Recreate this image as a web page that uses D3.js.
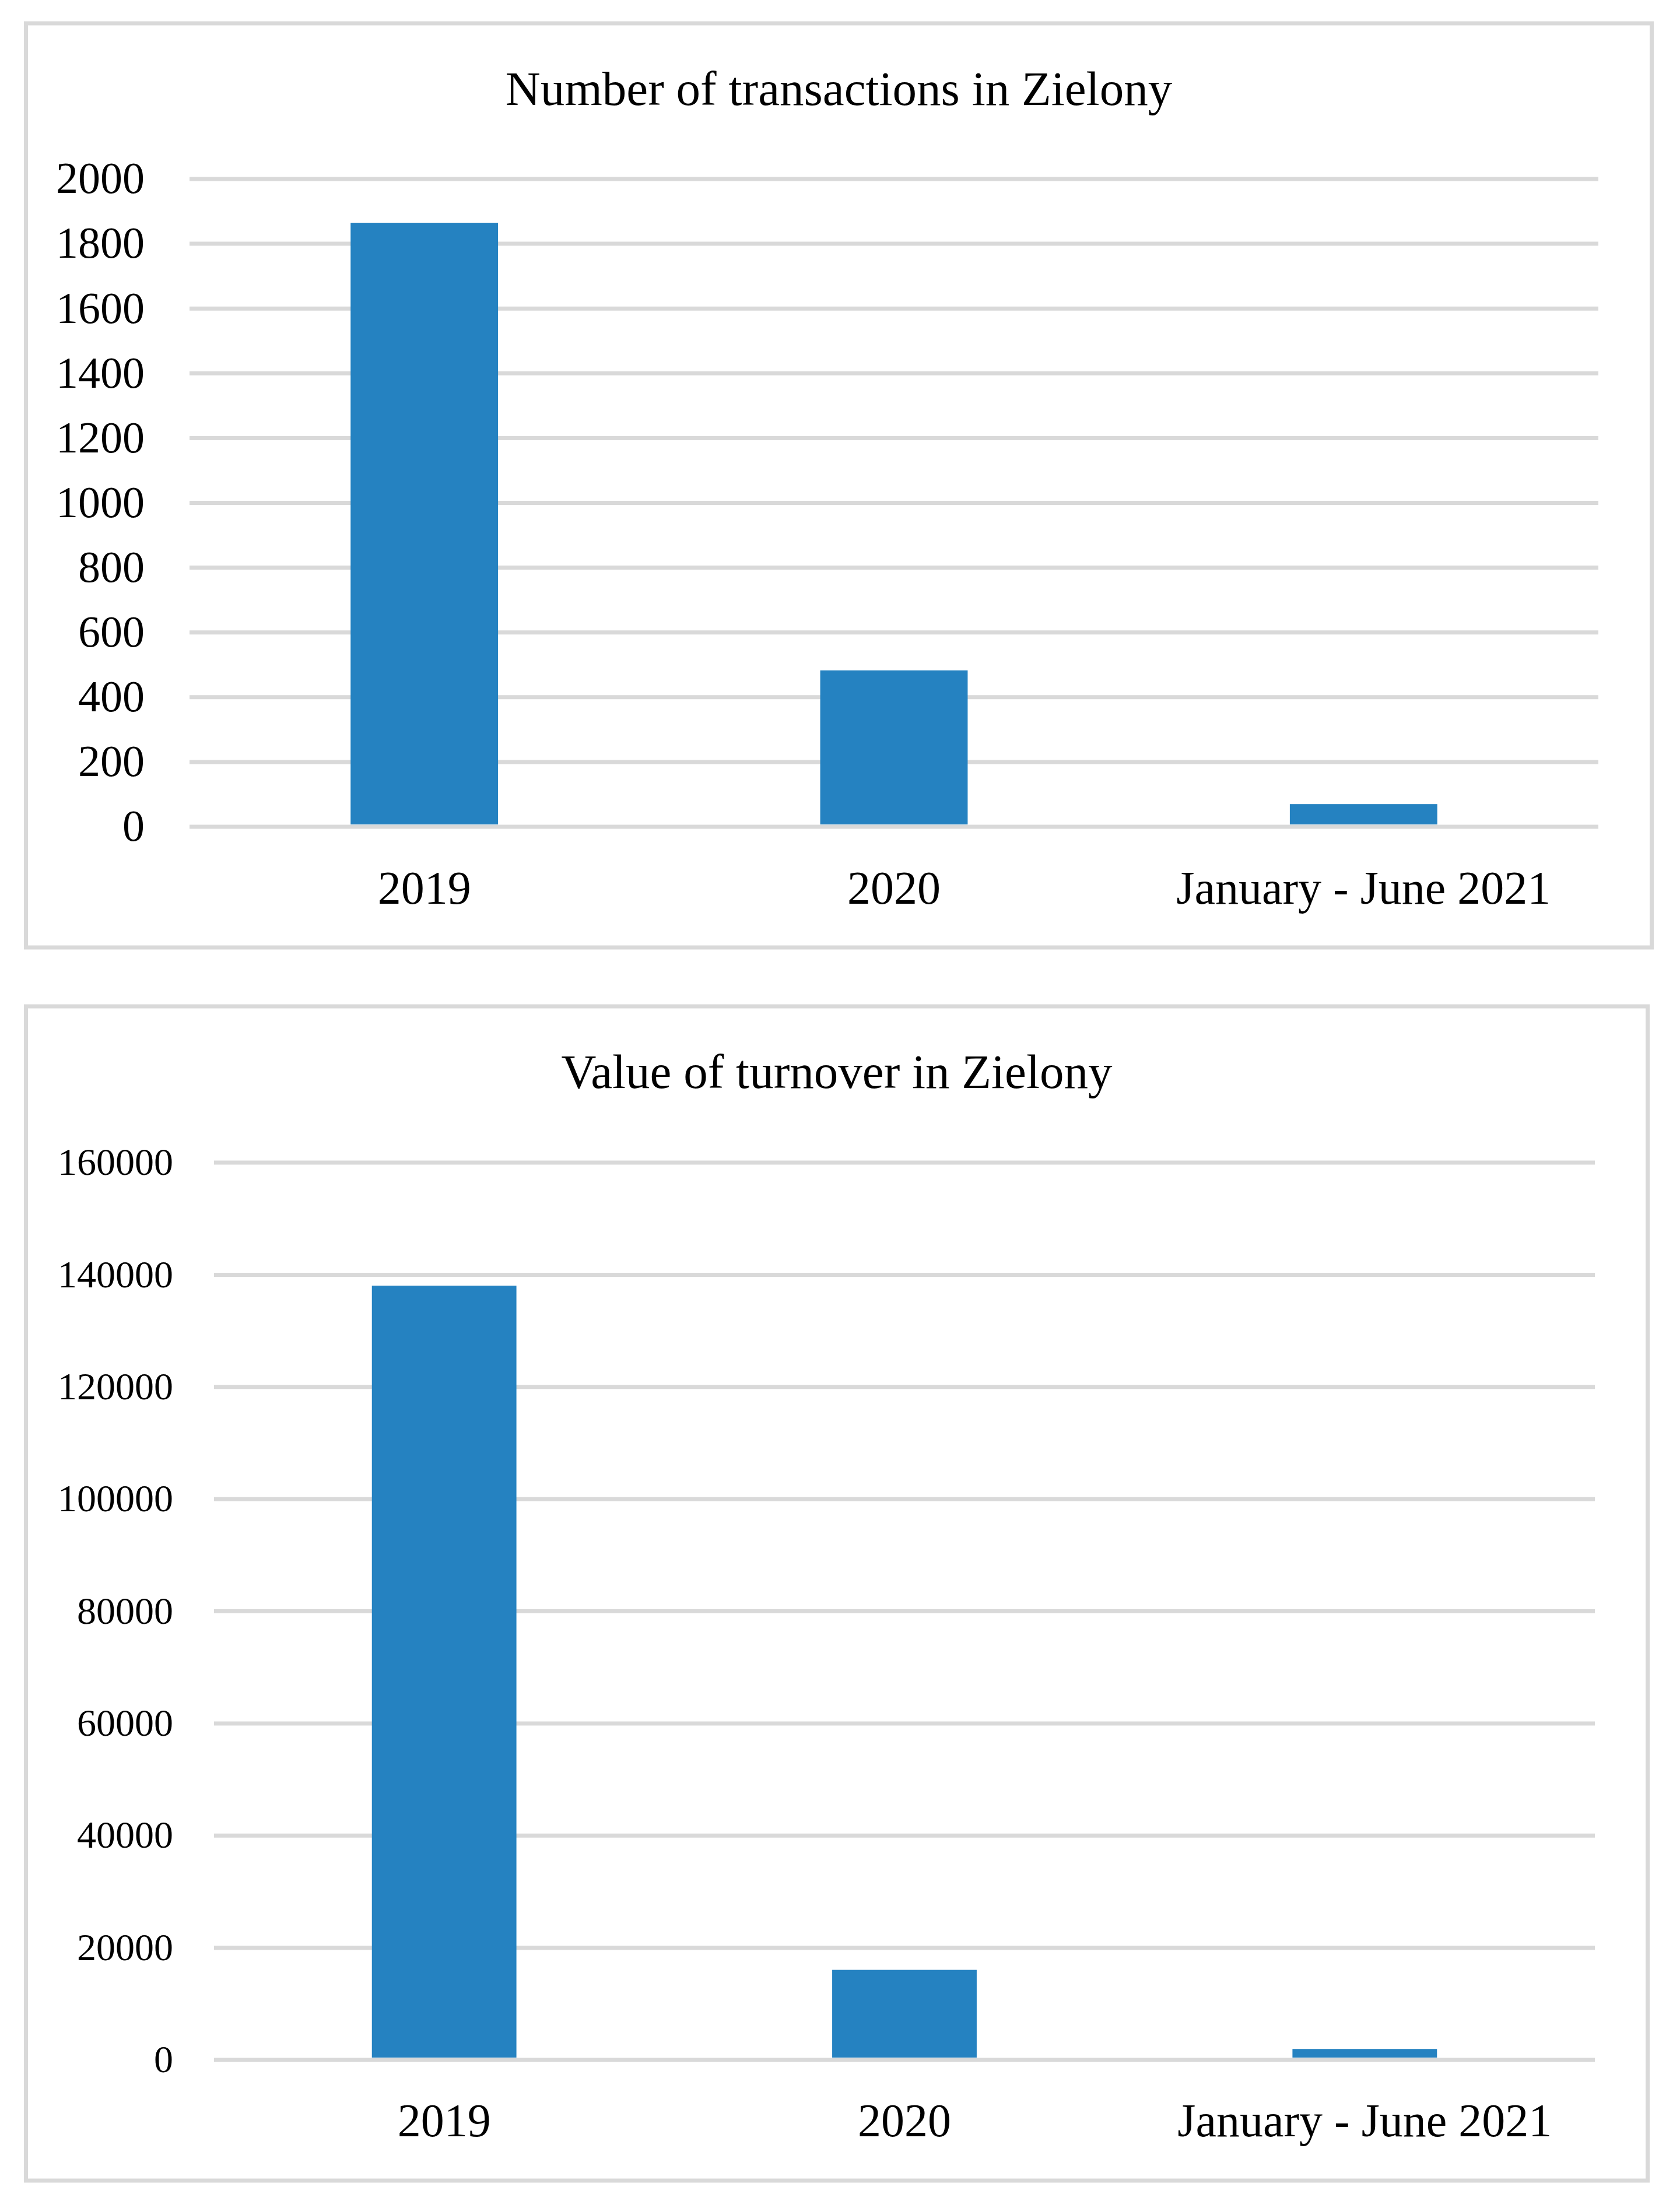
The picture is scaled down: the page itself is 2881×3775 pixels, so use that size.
<!DOCTYPE html>
<html>
<head>
<meta charset="utf-8">
<script src="https://cdn.jsdelivr.net/npm/d3@7"></script>
<style>
  html, body { margin: 0; padding: 0; background: #fff; }
  svg { display: block; }
  text { font-family: "Liberation Serif", "Times New Roman", serif; fill: #000; }
</style>
</head>
<body>
<svg id="chart" width="2881" height="3775"></svg>
<script>
// ---- Data ----
const categories = ["2019", "2020", "January - June 2021"];
const transactions = [1864, 482, 69];
const turnover = [138000, 16000, 1900];
const transactionTicks = [0, 200, 400, 600, 800, 1000, 1200, 1400, 1600, 1800, 2000];
const turnoverTicks = [0, 20000, 40000, 60000, 80000, 100000, 120000, 140000, 160000];
const titles = ["Number of transactions in Zielony", "Value of turnover in Zielony"];

const svg = d3.select("#chart");
const BAR = "#2582c1", GRID = "#d9d9d9";

function panel(cfg) {
  const g = svg.append("g");
  // frame
  g.append("rect")
    .attr("x", cfg.frame[0]).attr("y", cfg.frame[1])
    .attr("width", cfg.frame[2]).attr("height", cfg.frame[3])
    .attr("fill", "#fff").attr("stroke", GRID).attr("stroke-width", 7);
  // title
  g.append("text")
    .attr("x", cfg.frame[0] + cfg.frame[2] / 2)
    .attr("y", cfg.titleY)
    .attr("text-anchor", "middle")
    .style("font-size", "83px")
    .text(cfg.title);

  const x = d3.scaleBand().domain(categories)
    .range([cfg.left, cfg.right]).paddingInner(0.686).paddingOuter(0.343);
  const y = d3.scaleLinear().domain([0, d3.max(cfg.ticks)])
    .range([cfg.bottom, cfg.top]);

  // y axis with gridlines
  const ya = g.append("g")
    .attr("transform", `translate(${cfg.left},0)`)
    .call(d3.axisLeft(y).tickValues(cfg.ticks).tickFormat(d3.format("d"))
      .tickSize(-(cfg.right - cfg.left)).tickPadding(cfg.yPad));
  ya.select(".domain").remove();
  ya.selectAll(".tick line").attr("stroke", GRID).attr("stroke-width", 7);
  ya.selectAll(".tick text").style("font-size", cfg.yFont + "px")
    .attr("dy", "0.32em");
  ya.attr("font-family", null).attr("font-size", null);

  // bars
  g.append("g").selectAll("rect")
    .data(cfg.values)
    .join("rect")
    .attr("x", (d, i) => x(categories[i]))
    .attr("width", x.bandwidth())
    .attr("y", d => y(d))
    .attr("height", d => y(0) - y(d) - 3.5)
    .attr("fill", BAR);

  // x axis
  const xa = g.append("g")
    .attr("transform", `translate(0,${cfg.bottom})`)
    .call(d3.axisBottom(x).tickSize(0).tickPadding(cfg.xPad));
  xa.select(".domain").remove();
  xa.attr("font-family", null).attr("font-size", null);
  xa.selectAll(".tick text").style("font-size", "80px");
}

panel({
  frame: [44.5, 40, 2788, 1585],
  title: titles[0], titleY: 180,
  left: 325, right: 2741, top: 306.5, bottom: 1417.5,
  ticks: transactionTicks, values: transactions,
  yPad: 77, yFont: 76, xPad: 76
});

panel({
  frame: [44.5, 1726, 2781, 2014],
  title: titles[1], titleY: 1866,
  left: 367, right: 2735, top: 1993.5, bottom: 3532.5,
  ticks: turnoverTicks, values: turnover,
  yPad: 70, yFont: 66, xPad: 75
});
</script>
</body>
</html>
